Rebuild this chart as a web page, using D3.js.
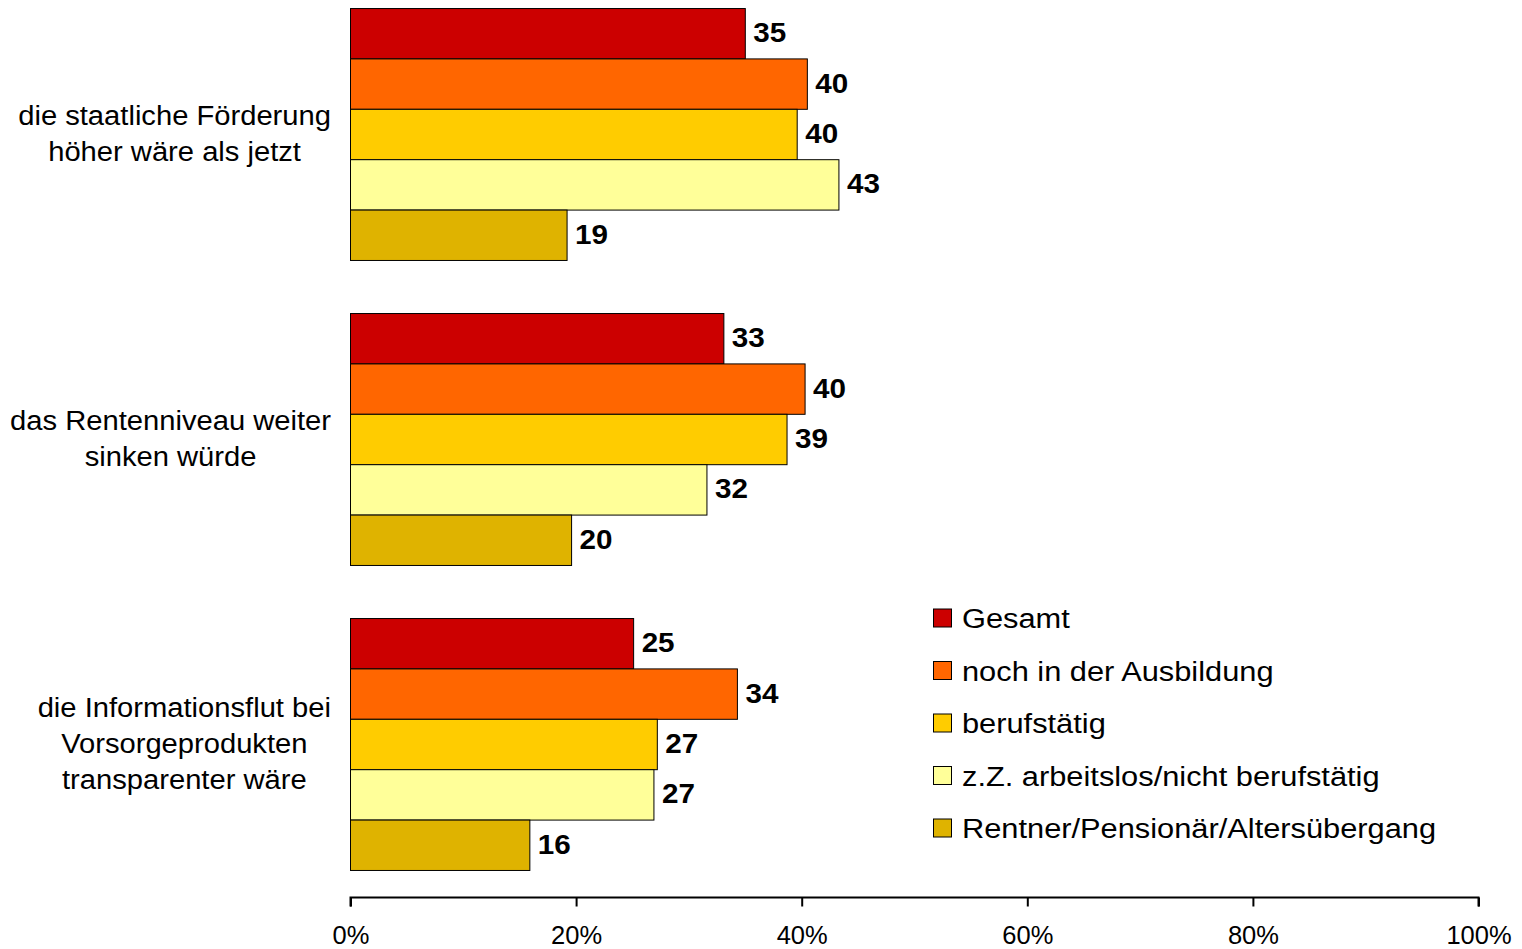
<!DOCTYPE html>
<html><head><meta charset="utf-8">
<script src="https://cdn.jsdelivr.net/npm/d3@7"></script>
<style>body{margin:0;background:#fff;} svg{display:block;font-family:"Liberation Sans",Arial,sans-serif;}</style>
</head><body>
<svg id="c" width="1522" height="949"></svg>
<script>
const categories = [
  ["die staatliche Förderung", "höher wäre als jetzt"],
  ["das Rentenniveau weiter", "sinken würde"],
  ["die Informationsflut bei", "Vorsorgeprodukten", "transparenter wäre"]
];
const seriesNames = ["Gesamt", "noch in der Ausbildung", "berufstätig", "z.Z. arbeitslos/nicht berufstätig", "Rentner/Pensionär/Altersübergang"];
const seriesColors = ["#CC0000", "#FF6600", "#FFCC00", "#FFFF99", "#DFB300"];
const gesamt = [35.0, 33.1, 25.1];
const ausbildung = [40.5, 40.3, 34.3];
const berufstaetig = [39.6, 38.7, 27.2];
const arbeitslos = [43.3, 31.6, 26.9];
const rentner = [19.2, 19.6, 15.9];
const valueLabels = [[35,40,40,43,19],[33,40,39,32,20],[25,34,27,27,16]];
const tickValues = [0, 20, 40, 60, 80, 100];

const series = [gesamt, ausbildung, berufstaetig, arbeitslos, rentner];
const svg = d3.select("#c");
const x = d3.scaleLinear().domain([0, 100]).range([350.5, 1478.5]);
const y0 = d3.scaleBand().domain(d3.range(categories.length)).range([-18, 897]).paddingInner(0.174).paddingOuter(0.087);
const y1 = d3.scaleBand().domain(d3.range(series.length)).range([0, y0.bandwidth()]);

const g = svg.append("g");
categories.forEach((cat, ci) => {
  const grp = g.append("g").attr("transform", `translate(0,${y0(ci)})`);
  series.forEach((s, si) => {
    grp.append("rect")
      .attr("x", x(0)).attr("y", y1(si))
      .attr("width", x(s[ci]) - x(0)).attr("height", y1.bandwidth())
      .attr("fill", seriesColors[si]).attr("stroke", "#000").attr("stroke-width", 1);
    grp.append("text")
      .attr("transform", `translate(${x(s[ci]) + 8},${y1(si) + y1.bandwidth()/2}) scale(1.04,1)`)
      .attr("dy", "0.3em").attr("font-size", 28.5).attr("font-weight", "bold")
      .text(valueLabels[ci][si]);
  });
  // category label: block right-aligned at 331, lines centered
  const lineH = 36;
  const n = cat.length;
  const cy = y0(ci) + y0.bandwidth()/2;
  const sx = 1.08;
  const t = g.append("text").attr("font-size", 27).attr("text-anchor", "middle");
  cat.forEach((ln, li) => {
    t.append("tspan").attr("x", 0).attr("y", (li - (n-1)/2) * lineH).attr("dy", "0.33em").text(ln);
  });
  const w = t.node().getBBox().width * sx;
  t.attr("transform", `translate(${331 - w/2},${cy}) scale(${sx},1)`);
});

const axis = d3.axisBottom(x).tickValues(tickValues).tickFormat(d => d + "%").tickSize(9).tickSizeOuter(0);
const ax = svg.append("g").attr("transform", "translate(0,897.5)").call(axis);
ax.select(".domain").attr("stroke", "#000").attr("stroke-width", 2).attr("d", `M${x(0)},9V0H${x(100)}V9`);
ax.selectAll(".tick line").attr("stroke", "#000").attr("stroke-width", 2);
ax.selectAll(".tick text").attr("font-size", 25.5).attr("fill", "#000").attr("font-family", "Liberation Sans, Arial, sans-serif").attr("y", 28).attr("dy", "0.71em");

const leg = svg.append("g");
seriesNames.forEach((nm, i) => {
  const yy = 618 + i * 52.5;
  leg.append("rect").attr("x", 933.5).attr("y", yy - 9).attr("width", 18).attr("height", 18)
    .attr("fill", seriesColors[i]).attr("stroke", "#000").attr("stroke-width", 1);
  leg.append("text").attr("transform", `translate(962,${yy}) scale(1.1,1)`).attr("dy", "0.36em").attr("font-size", 28).text(nm);
});
</script>
</body></html>
